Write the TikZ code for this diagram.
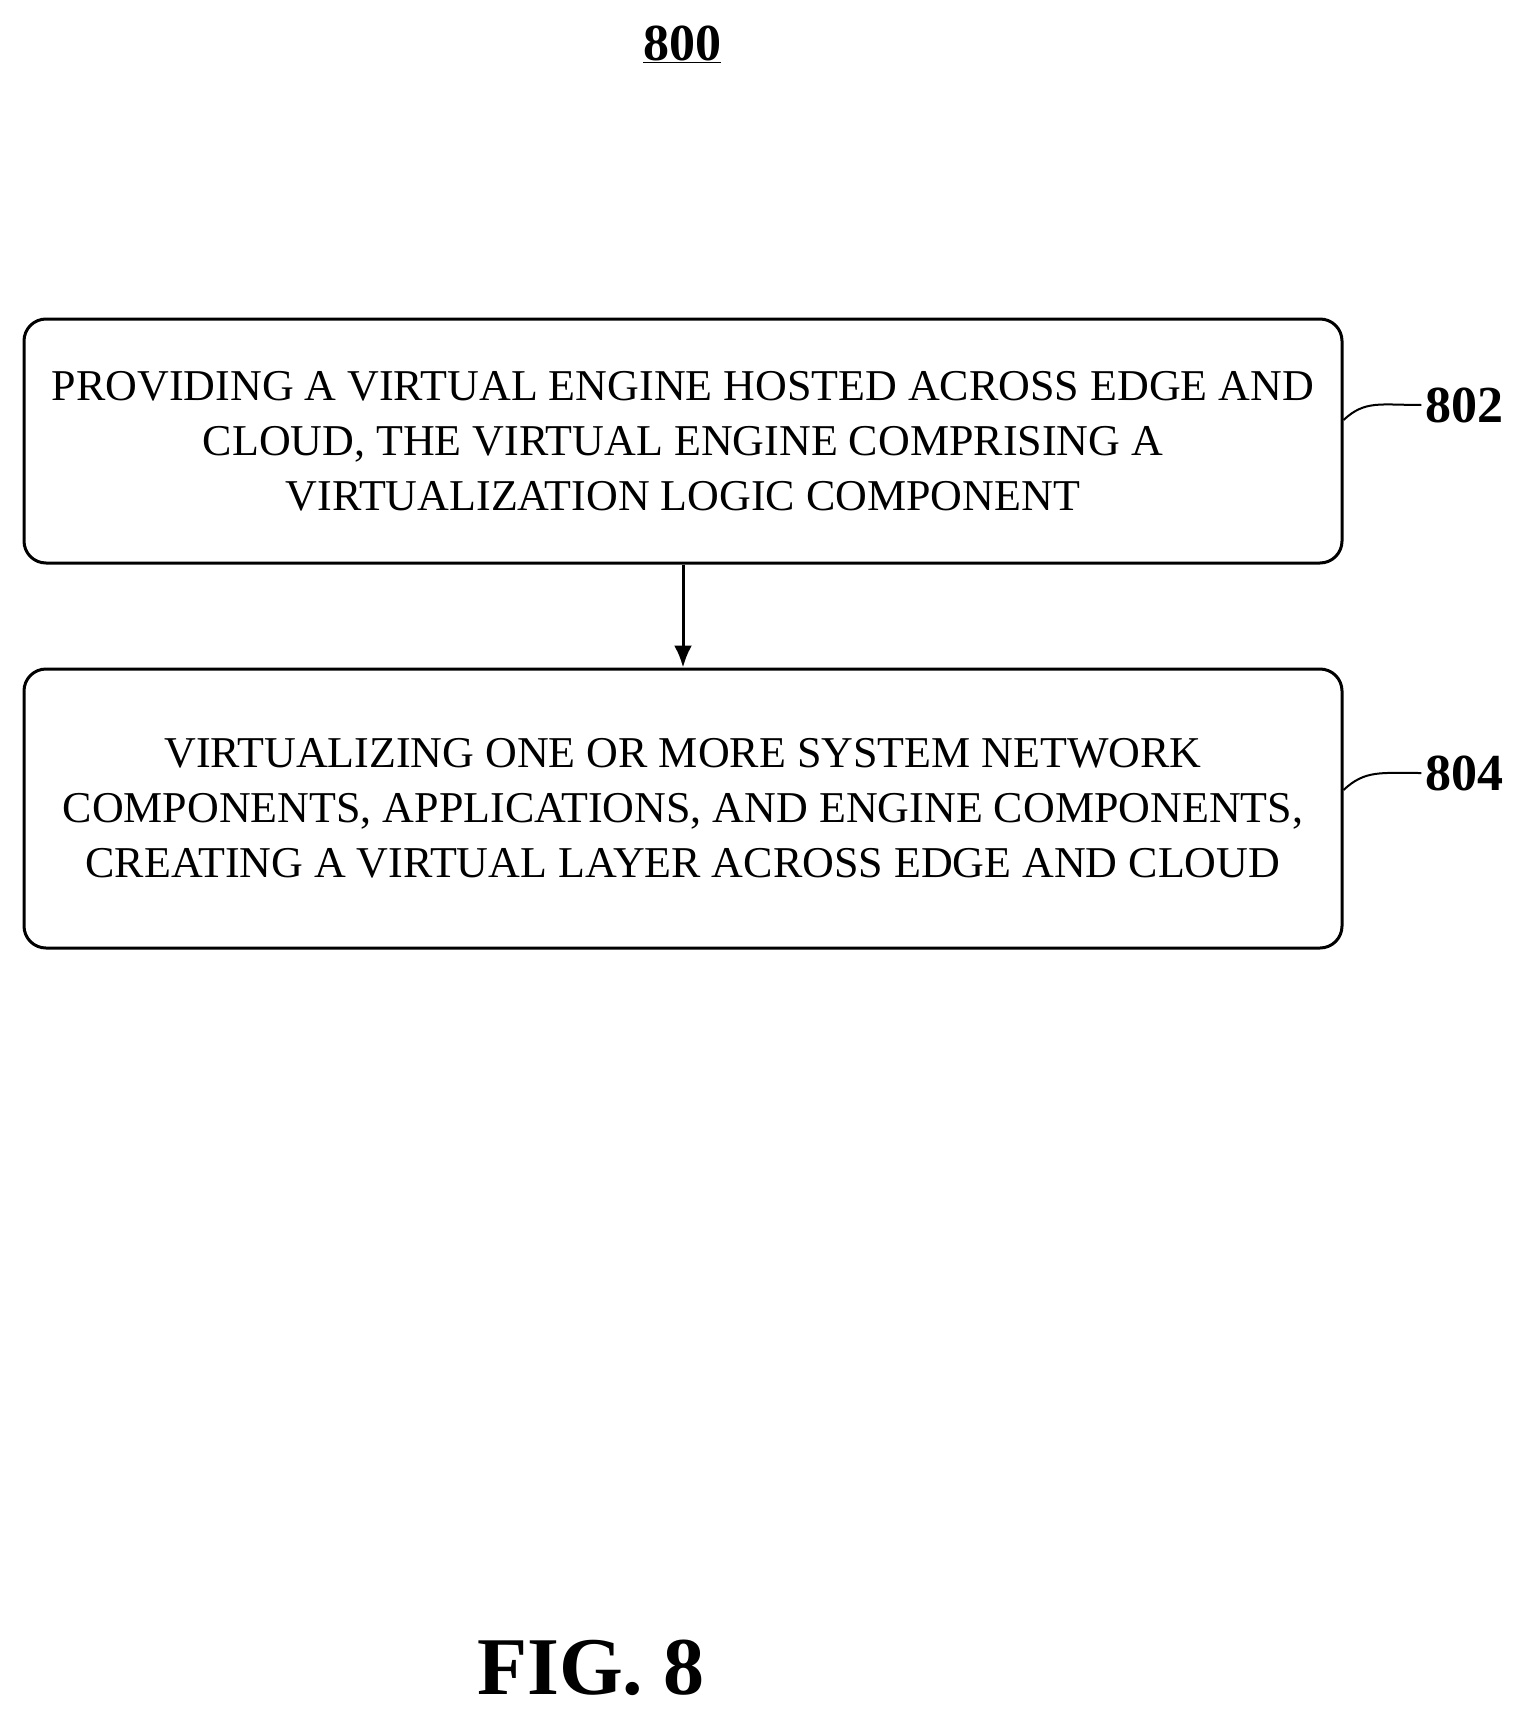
\documentclass[tikz,border=0pt]{standalone}
\usepackage{fontspec}
\setmainfont{Liberation Serif}
\usetikzlibrary{arrows.meta}
\begin{document}
\begin{tikzpicture}[x=1pt,y=-1pt,
  stepbox/.style={draw,line width=3pt,rounded corners=22pt,minimum width=1318pt,align=center,font=\fontsize{44}{55}\selectfont,inner sep=0pt},
  lbl/.style={font=\bfseries\fontsize{52}{52}\selectfont}]
\useasboundingbox (0,0) rectangle (1523,1712);
\node[font=\bfseries\fontsize{52}{52}\selectfont] (t) at (682,44) {\underline{800}};
\node[stepbox,minimum height=244pt] (b1) at (683,441) {PROVIDING A VIRTUAL ENGINE HOSTED ACROSS EDGE AND\\CLOUD, THE VIRTUAL ENGINE COMPRISING A\\VIRTUALIZATION LOGIC COMPONENT};
\node[stepbox,minimum height=279pt] (b2) at (683,808.5) {VIRTUALIZING ONE OR MORE SYSTEM NETWORK\\COMPONENTS, APPLICATIONS, AND ENGINE COMPONENTS,\\CREATING A VIRTUAL LAYER ACROSS EDGE AND CLOUD};
\draw[line width=3pt,-{Latex[length=22pt,width=18pt]}] (b1) -- (b2);
\node[lbl] (l1) at (1464,405) {802};
\node[lbl] (l2) at (1464,773) {804};
\draw[line width=2pt] (b1.east |- 0,420) .. controls (1365,400) and (1380,405) .. (l1.west);
\draw[line width=2pt] (b2.east |- 0,790) .. controls (1365,770) and (1380,773) .. (l2.west);
\node[font=\bfseries\fontsize{82}{82}\selectfont] (f) at (591,1668) {FIG. 8};
\end{tikzpicture}
\end{document}
